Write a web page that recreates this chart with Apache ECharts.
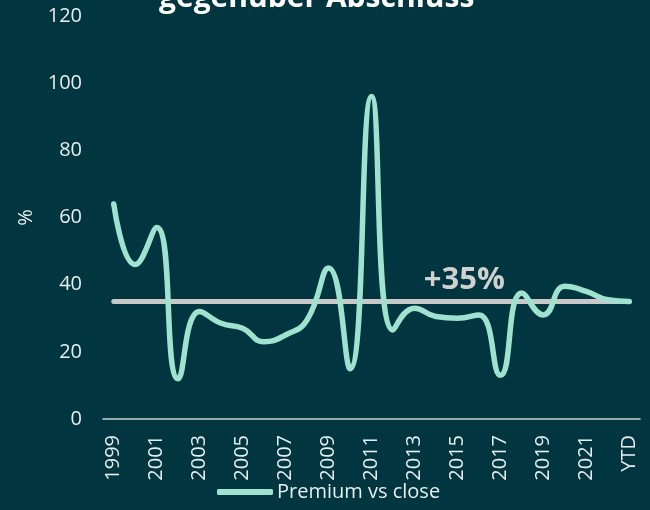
<!DOCTYPE html>
<html>
<head>
<meta charset="utf-8">
<title>Premium vs close</title>
<script src="https://cdn.jsdelivr.net/npm/echarts@6/dist/echarts.min.js"></script>
<style>
  html, body { margin: 0; padding: 0; background: #01353f; }
  #chart { width: 650px; height: 510px; }
</style>
</head>
<body>
<div id="chart"></div>
<script>
// Kategorien und Werte
var years = ['1999','2000','2001','2002','2003','2004','2005','2006','2007','2008','2009','2010',
             '2011','2012','2013','2014','2015','2016','2017','2018','2019','2020','2021','2022','YTD'];
var premium = [64, 46, 57, 12, 32, 28.5, 27, 23, 25, 29.5, 45, 15,
               96, 26.5, 33, 30.5, 30, 31, 13, 37.5, 31, 39.5, 38, 35.5, 35];
var avgValue = 35;
var avgLine = years.map(function () { return avgValue; });
var avgLabelAt = '2015';

var chart = echarts.init(document.getElementById('chart'));
var font = '"Open Sans", "Noto Sans", sans-serif';
var txt = '#e6eeee';

chart.setOption({
  backgroundColor: '#01353f',
  animation: false,
  textStyle: { fontFamily: font },
  title: {
    text: 'gegenüber Abschluss',
    left: 159,
    top: -17,
    padding: 0,
    textStyle: { color: '#ffffff', fontSize: 30, fontWeight: 'bold', fontFamily: font }
  },
  grid: { left: 103, right: 10, top: 16, bottom: 91 },
  legend: {
    data: [{ name: 'Premium vs close', icon: 'roundRect' }],
    top: 482,
    left: 217,
    padding: 0,
    itemWidth: 56,
    itemHeight: 6,
    textStyle: { color: txt, fontSize: 20, fontFamily: font, padding: [0, 0, 0, -1] }
  },
  xAxis: {
    type: 'category',
    data: years,
    boundaryGap: true,
    axisLine: { lineStyle: { color: '#c9d6d6', width: 1.5 } },
    axisTick: { show: false },
    axisLabel: { color: txt, fontSize: 20, rotate: 90, interval: 1, margin: 16 }
  },
  yAxis: {
    type: 'value',
    min: 0, max: 120, interval: 20,
    name: '%',
    nameLocation: 'middle',
    nameGap: 66,
    nameTextStyle: { color: txt, fontSize: 20 },
    splitLine: { show: false },
    axisLine: { show: false },
    axisTick: { show: false },
    axisLabel: { color: txt, fontSize: 20, margin: 21 }
  },
  series: [
    {
      name: 'avg',
      type: 'line',
      data: avgLine,
      symbol: 'none',
      lineStyle: { color: '#c8c8c8', width: 5, cap: 'round' },
      markPoint: {
        symbol: 'circle',
        symbolSize: 0,
        silent: true,
        data: [{ coord: [avgLabelAt, avgValue] }],
        label: {
          show: true, position: 'top', distance: 6, offset: [7, 0],
          formatter: '+35%', color: '#d0d0d0', fontSize: 31, fontWeight: 'bold', fontFamily: font
        }
      },
      z: 1
    },
    {
      name: 'Premium vs close',
      type: 'line',
      data: premium,
      smooth: 0.5,
      symbol: 'none',
      itemStyle: { color: '#9fe2d0' },
      lineStyle: { color: '#9fe2d0', width: 5.5, cap: 'round' },
      z: 2
    }
  ]
});
</script>
</body>
</html>
